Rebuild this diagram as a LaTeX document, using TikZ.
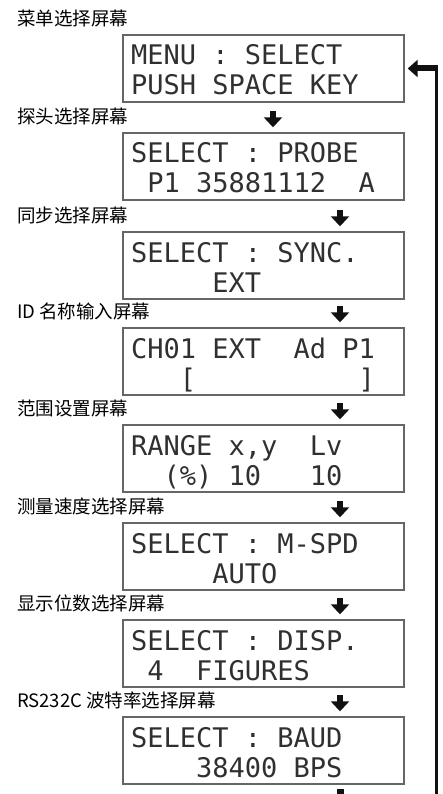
\documentclass[tikz,border=0pt]{standalone}
\usepackage{fontspec}
\newfontfamily\lcdfont{DejaVu Sans Mono}
\newfontfamily\cjk{Noto Sans CJK SC}
\usetikzlibrary{arrows.meta,calc}
\definecolor{boxgray}{HTML}{666666}
\definecolor{lcdtext}{HTML}{303030}
\definecolor{arrowblack}{HTML}{111111}
\tikzset{
  lcd/.style={draw=boxgray, line width=1.4pt, rectangle, inner xsep=8pt, inner ysep=0pt,
    text width=265pt, align=left, font=\lcdfont\fontsize{27}{30}\selectfont, text=lcdtext},
  scrlabel/.style={anchor=west, inner sep=0pt, font=\cjk\fontsize{18.5}{20}\selectfont, text=black},
  downarrow/.style={draw=arrowblack, line width=6pt, -{Triangle[width=18pt,length=10pt]}, shorten >=5pt},
  backline/.style={draw=arrowblack, line width=2.5pt},
  backarrow/.style={draw=arrowblack, line width=6pt, -{Triangle[width=17pt,length=10pt]}, shorten >=3pt},
}
\newcommand{\lcdA}{\spaceskip=\fontcharwd\font`0\relax\xspaceskip=\fontcharwd\font`0\relax\rule{0pt}{30pt}}
\newcommand{\lcdB}{\rule[-7pt]{0pt}{7pt}}
\begin{document}
\begin{tikzpicture}[x=1pt,y=-1pt]
\useasboundingbox (0,0) rectangle (443,794);
% boxes (tops: 35,133,232,328,425,523,620,717; height 67)
\node[lcd] (b1) at (263.5, 68.5)  {\lcdA MENU~:~SELECT\\PUSH~SPACE~KEY\lcdB};
\node[lcd] (b2) at (263.5, 166.5) {\lcdA SELECT~:~PROBE\\~P1~35881112~~A\lcdB};
\node[lcd] (b3) at (263.5, 265.5) {\lcdA SELECT~:~SYNC.\\~~~~~EXT\lcdB};
\node[lcd] (b4) at (263.5, 361.5) {\lcdA CH01~EXT~~Ad~P1\\~~~[~~~~~~~~~~]\lcdB};
\node[lcd] (b5) at (263.5, 458.5) {\lcdA RANGE~x,y~~Lv\\~~(\%)~10~~~10\lcdB};
\node[lcd] (b6) at (263.5, 556.5) {\lcdA SELECT~:~M-SPD\\~~~~~AUTO\lcdB};
\node[lcd] (b7) at (263.5, 653.5) {\lcdA SELECT~:~DISP.\\~4~~FIGURES\lcdB};
\node[lcd] (b8) at (263.5, 750.5) {\lcdA SELECT~:~BAUD\\~~~~38400~BPS\lcdB};
% labels
\node[scrlabel] (l1) at (17, 18.5)  {菜单选择屏幕};
\node[scrlabel] (l2) at (17, 116.5) {探头选择屏幕};
\node[scrlabel] (l3) at (17, 215.5) {同步选择屏幕};
\node[scrlabel] (l4) at (17, 311.5) {ID 名称输入屏幕};
\node[scrlabel] (l5) at (17, 408.5) {范围设置屏幕};
\node[scrlabel] (l6) at (17, 506.5) {测量速度选择屏幕};
\node[scrlabel] (l7) at (17, 603.5) {显示位数选择屏幕};
\node[scrlabel] (l8) at (17, 700.5) {RS232C 波特率选择屏幕};
% down arrows
\coordinate (d2) at (273, 111);
\coordinate (d3) at (340, 210);
\coordinate (d4) at (340, 306);
\coordinate (d5) at (340, 403);
\coordinate (d6) at (340, 501);
\coordinate (d7) at (340, 598);
\coordinate (d8) at (340, 695);
\draw[downarrow] (d2) -- (d2 |- b2.north);
\draw[downarrow] (d3) -- (d3 |- b3.north);
\draw[downarrow] (d4) -- (d4 |- b4.north);
\draw[downarrow] (d5) -- (d5 |- b5.north);
\draw[downarrow] (d6) -- (d6 |- b6.north);
\draw[downarrow] (d7) -- (d7 |- b7.north);
\draw[downarrow] (d8) -- (d8 |- b8.north);
% stub of next arrow below last box
\coordinate (d9) at (340, 789);
\coordinate (d9e) at (340, 794);
\draw[draw=arrowblack, line width=7pt] (d9) -- (d9e);
% return line
\path (b1.east) ++(32,0) coordinate (fbT);
\coordinate (fbB) at (fbT |- 0,794);
\draw[backline] (fbB) -- ([yshift=-3pt]fbT);
\draw[backarrow] ([xshift=1.25pt]fbT) -- (b1.east);
\end{tikzpicture}
\end{document}
